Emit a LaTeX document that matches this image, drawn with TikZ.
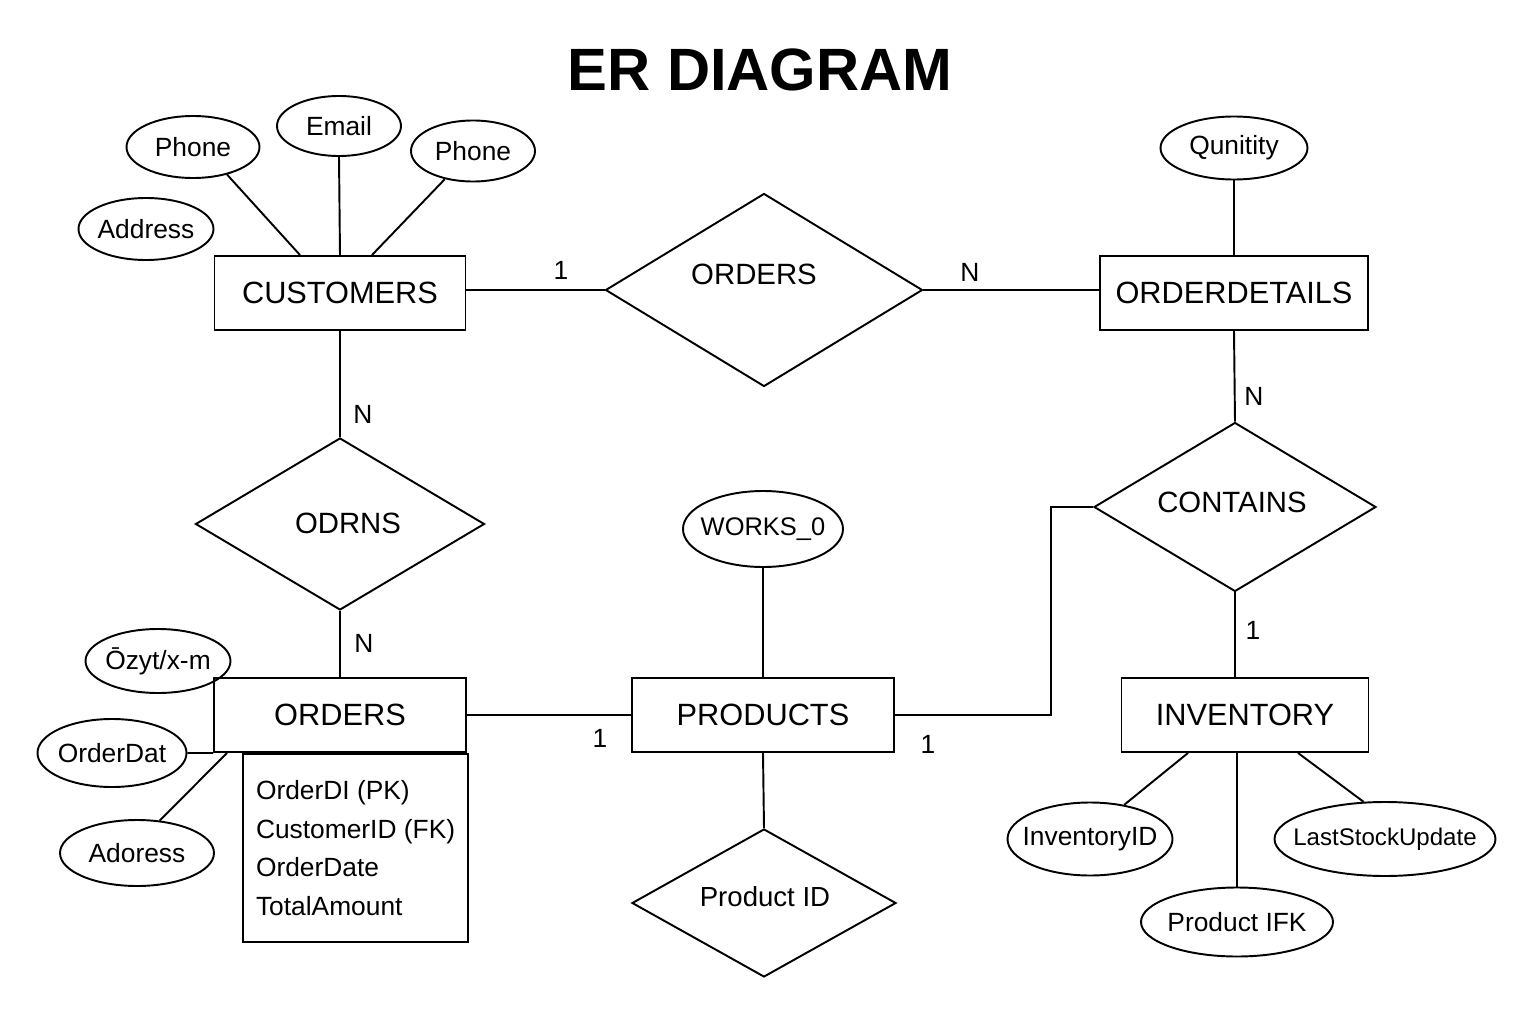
\documentclass[tikz,border=0pt]{standalone}
\usepackage{fontspec}
\setmainfont{Liberation Sans}
\usetikzlibrary{shapes.geometric}
\newlength\upx
\setlength\upx{0.02cm}
\newcommand\entfont{\fontsize{17.5}{21}\selectfont}
\newcommand\attrfont{\fontsize{15}{18}\selectfont}

\begin{document}
\begin{tikzpicture}[x=0.02cm, y=-0.02cm, line width=1.1pt,
    entity/.style={draw, rectangle, inner sep=0, minimum height=74\upx, font=\entfont},
    attr/.style={draw, ellipse, inner sep=0},
    rel/.style={draw, diamond, inner sep=0},
    card/.style={font=\attrfont, inner sep=0}]
    \fill[white] (0,0) rectangle (1536,1024);
    \useasboundingbox (0,0) rectangle (1536,1024);

    \node[font=\fontsize{34}{40}\selectfont\bfseries] (title) at (760,70) {ER DIAGRAM};

    % entities
    \node[entity, minimum width=251\upx] (cust) at (340,293) {CUSTOMERS};
    \node[entity, minimum width=268\upx] (odet) at (1234,293) {ORDERDETAILS};
    \node[entity, minimum width=252\upx] (ord) at (340,715) {ORDERS};
    \node[entity, minimum width=262\upx] (prod) at (763,715) {PRODUCTS};
    \node[entity, minimum width=247\upx] (inv) at (1245,715) {INVENTORY};
    \node[draw, rectangle, anchor=north west, align=left, inner xsep=13\upx,
        minimum height=188\upx, font=\fontsize{15}{22}\selectfont] (ordatt)
        at ([xshift=29\upx]ord.south west)
        {OrderDI (PK)\\CustomerID (FK)\\OrderDate\\TotalAmount};

    % attributes
    \foreach \n/\x/\y/\w/\h/\s/\t in {ph1/193/147/133/62/15/Phone, ema/339/126/124/60/15/Email,
        ph2/473/151/124/61/15/Phone, addr/146/229/135/62/15/Address,
        qty/1234/148/147/63/15/Qunitity, odx/158/661/145/64/15/{Ōzyt/x-m},
        odat/112/753/149/68/15/OrderDat, adr/137/853/154/66/15/Adoress,
        wrk/763/529/160/76/14.5/WORKS\_0, iid/1090/839/165/73/15/InventoryID,
        lsu/1385/839/221/74/13.7/LastStockUpdate, pfk/1237/922/192/69/15/Product IFK}
    {
        \node[attr, minimum width=\w\upx, minimum height=\h\upx,
            label={[font=\fontsize{\s}{18}\selectfont, inner sep=0]center:\t}] (\n) at (\x,\y) {};
    }

    % relationships
    \foreach \n/\x/\y/\w/\h/\dx/\dy/\s/\t in {rord/764/290/317/193/-10/16/16.7/ORDERS,
        rodr/340/524/289/172/8/1/16.7/ODRNS, rcont/1235/507/282/169/-3/5/16.7/CONTAINS,
        rpid/764/903/264/148/1/6/15.7/Product ID}
    {
        \node[rel, minimum width=\w\upx, minimum height=\h\upx,
            label={[font=\fontsize{\s}{20}\selectfont, inner sep=0, xshift=\dx\upx, yshift=\dy\upx]center:\t}] (\n) at (\x,\y) {};
    }

    % connectors
    \draw (ph1.-39) -- ([xshift=-40\upx]cust.north);
    \draw (ema.south) -- (cust.north);
    \draw (ph2.225) -- ([xshift=32\upx]cust.north);
    \draw (qty.south) -- (odet.north);
    \draw (rord.west -| cust.east) -- (rord.west);
    \draw (rord.east) -- (rord.east -| odet.west);
    \draw (cust.south) -- (rodr.north);
    \draw (rodr.south) -- (ord.north);
    \draw (odat.east) -- (ord.south west);
    \draw (adr.55) -- ([xshift=14\upx]ord.south west);
    \draw (ord.east) -- (prod.west);
    \draw (wrk.south) -- (prod.north);
    \draw (prod.south) -- (rpid.north);
    \draw (prod.east) -- ++(156,0) |- (rcont.west);
    \draw (odet.south) -- (rcont.north);
    \draw (rcont.south) -- (rcont.south |- inv.north);
    \draw (iid.45) -- ([xshift=-57\upx]inv.south);
    \draw (lsu.120) -- ([xshift=53\upx]inv.south);
    \draw (pfk.north) -- (pfk.north |- inv.south);

    % cardinalities
    \foreach \n/\x/\y/\t in {k1/561/270/1, k2/970/272/N, k3/363/414/N, k4/364/643/N,
        k5/600/738/1, k6/928/744/1, k7/1254/396/N, k8/1253/630/1}
    {
        \node[card] (\n) at (\x,\y) {\t};
    }
\end{tikzpicture}
\end{document}
